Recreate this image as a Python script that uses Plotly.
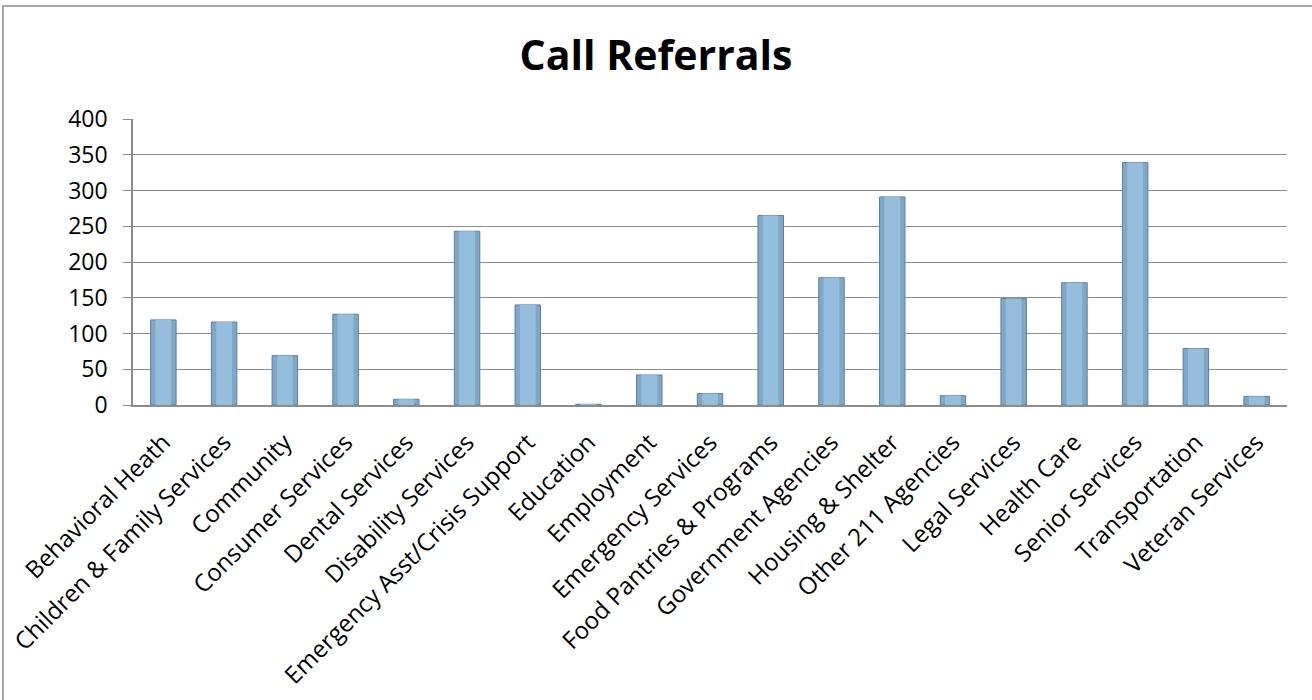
import plotly.graph_objects as go

categories = ["Behavioral Heath", "Children & Family Services", "Community", "Consumer Services",
              "Dental Services", "Disability Services", "Emergency Asst/Crisis Support", "Education",
              "Employment", "Emergency Services", "Food Pantries & Programs", "Government Agencies",
              "Housing & Shelter", "Other 211 Agencies", "Legal Services", "Health Care",
              "Senior Services", "Transportation", "Veteran Services"]
referrals = [119, 116, 69, 127, 8, 243, 140, 1, 42, 16, 265, 178, 291, 13, 149, 171, 339, 79, 12]
y_ticks = [0, 50, 100, 150, 200, 250, 300, 350, 400]

FONT = "'Open Sans', Lato, sans-serif"

fig = go.Figure()
fig.add_trace(go.Bar(x=categories, y=referrals, width=0.42,
                     marker=dict(color="#7FA7C8", line=dict(color="#5E7F9C", width=1)),
                     hoverinfo="x+y"))
fig.add_trace(go.Bar(x=categories, y=referrals, width=0.26,
                     marker=dict(color="#95BEDD", line=dict(width=0)),
                     hoverinfo="skip"))

fig.update_layout(
    width=1312, height=700,
    barmode="overlay",
    showlegend=False,
    paper_bgcolor="white", plot_bgcolor="white",
    margin=dict(l=133, r=25, t=119, b=295),
    title=dict(text="<b>Call Referrals</b>", x=0.5, xanchor="center", y=0.921, yanchor="middle",
               font=dict(family=FONT, size=41, color="black")),
    font=dict(family=FONT, size=23, color="black"),
    shapes=[dict(type="rect", xref="paper", yref="paper",
                 x0=-130/1154, x1=(1312 - 133 + 20) / 1154,
                 y0=-300/286, y1=(405 - 6) / 286,
                 line=dict(color="#8C8C8C", width=1.5), layer="below")],
)
fig.update_xaxes(tickangle=-45, showline=True, linecolor="#8C8C8C", linewidth=1.5,
                 ticks="", tickfont=dict(family=FONT, size=24), automargin=False,
                 ticklabelstandoff=12)
fig.update_yaxes(range=[0, 400], tickvals=y_ticks, showgrid=True, gridcolor="#8C8C8C", gridwidth=1.3,
                 showline=True, linecolor="#8C8C8C", linewidth=1.5, ticks="outside", ticklen=8,
                 tickcolor="#8C8C8C", zeroline=False, tickfont=dict(family=FONT, size=23),
                 automargin=False, ticklabelstandoff=11)

fig.write_html("out.html", config={"displayModeBar": False},
               post_script="document.body.style.margin='0';document.body.style.overflow='hidden';")
